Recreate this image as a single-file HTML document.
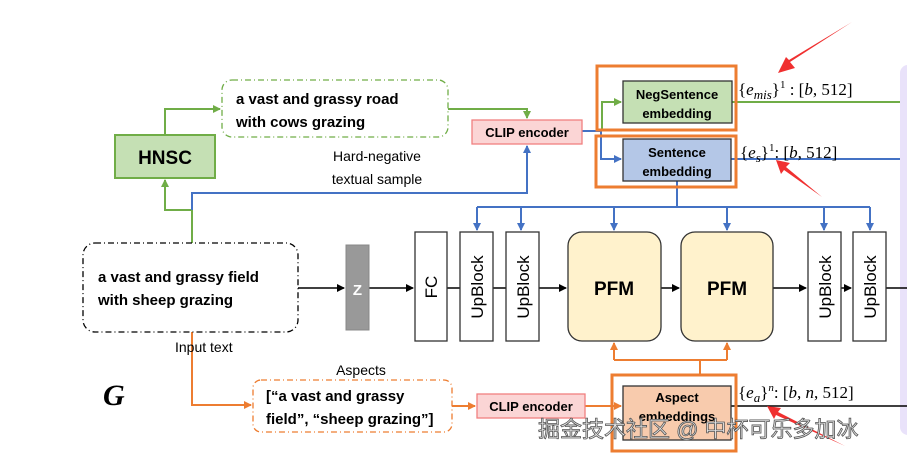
<!DOCTYPE html>
<html><head><meta charset="utf-8"><style>
body{margin:0;background:#fff;}
svg{display:block;}
text{font-family:"Liberation Sans","Noto Sans CJK SC",sans-serif;}
text.m{font-family:"Liberation Serif",serif;}
.b{font-weight:bold;}
</style></head><body>
<svg width="907" height="454" viewBox="0 0 907 454" xmlns="http://www.w3.org/2000/svg">
<defs>
<marker id="ak" markerWidth="8" markerHeight="8" refX="7" refY="4" orient="auto" markerUnits="userSpaceOnUse"><path d="M0,0 L8,4 L0,8 z" fill="#000"/></marker>
<marker id="ab" markerWidth="8" markerHeight="8" refX="7" refY="4" orient="auto" markerUnits="userSpaceOnUse"><path d="M0,0 L8,4 L0,8 z" fill="#4472c4"/></marker>
<marker id="ag" markerWidth="8" markerHeight="8" refX="7" refY="4" orient="auto" markerUnits="userSpaceOnUse"><path d="M0,0 L8,4 L0,8 z" fill="#70ad47"/></marker>
<marker id="ao" markerWidth="8" markerHeight="8" refX="7" refY="4" orient="auto" markerUnits="userSpaceOnUse"><path d="M0,0 L8,4 L0,8 z" fill="#ed7d31"/></marker>
</defs>
<rect x="900" y="65" width="20" height="370" rx="8" fill="#e9e2fa"/>

<g stroke="#70ad47" stroke-width="2" fill="none">
<path d="M192,243 V210 H165 V180" marker-end="url(#ag)"/>
<path d="M165,135 V109 H220" marker-end="url(#ag)"/>
<path d="M448,109 H527 V118" marker-end="url(#ag)"/>
<path d="M602,131 V102 H621" marker-end="url(#ag)"/>
<path d="M731,102 H900"/>
</g>
<g stroke="#4472c4" stroke-width="2" fill="none">
<path d="M192,210 V193 H527 V146" marker-end="url(#ab)"/>
<path d="M582,131 H601 V159 H621" marker-end="url(#ab)"/>
<path d="M731,159 H900"/>
<path d="M677,181 V207"/>
<path d="M477,207 H870"/>
<path d="M477,207 V230" marker-end="url(#ab)"/>
<path d="M521,207 V230" marker-end="url(#ab)"/>
<path d="M614,207 V230" marker-end="url(#ab)"/>
<path d="M727,207 V230" marker-end="url(#ab)"/>
<path d="M824,207 V230" marker-end="url(#ab)"/>
<path d="M870,207 V230" marker-end="url(#ab)"/>
</g>
<g stroke="#ed7d31" stroke-width="2" fill="none">
<path d="M192,332 V405 H251" marker-end="url(#ao)"/>
<path d="M452,406 H475" marker-end="url(#ao)"/>
<path d="M585,406 H621" marker-end="url(#ao)"/>
<path d="M700,375 V360"/>
<path d="M614,360 H727"/>
<path d="M614,360 V343" marker-end="url(#ao)"/>
<path d="M727,360 V343" marker-end="url(#ao)"/>
</g>
<g stroke="#000" stroke-width="1.5" fill="none">
<path d="M298,288 H344" marker-end="url(#ak)"/>
<path d="M369,288 H413" marker-end="url(#ak)"/>
<path d="M447,288 H460"/>
<path d="M493,288 H506"/>
<path d="M539,288 H566" marker-end="url(#ak)"/>
<path d="M661,288 H679" marker-end="url(#ak)"/>
<path d="M773,288 H806" marker-end="url(#ak)"/>
<path d="M841,288 H851" marker-end="url(#ak)"/>
<path d="M886,288 H907"/>
<path d="M731,406 H907"/>
</g>

<rect x="115" y="135" width="100" height="43" fill="#c5e0b4" stroke="#70ad47" stroke-width="2"/>
<text x="165" y="164" font-size="19" class="b" text-anchor="middle">HNSC</text>
<rect x="222" y="80" width="226" height="57" rx="10" fill="none" stroke="#70ad47" stroke-width="1.3" stroke-dasharray="6,3,1,3"/>
<text x="236" y="104" font-size="15" class="b">a vast and grassy road</text>
<text x="236" y="127" font-size="15" class="b">with cows grazing</text>
<text x="377" y="161" font-size="14" text-anchor="middle">Hard-negative</text>
<text x="377" y="184" font-size="14" text-anchor="middle">textual sample</text>

<rect x="472" y="120" width="110" height="24" fill="#fbd5d5" stroke="#f08080" stroke-width="1.3"/>
<text x="527" y="137" font-size="13" class="b" text-anchor="middle">CLIP encoder</text>

<rect x="597" y="66" width="139" height="64" fill="none" stroke="#ed7d31" stroke-width="3"/>
<rect x="596" y="136" width="140" height="51" fill="none" stroke="#ed7d31" stroke-width="3"/>
<rect x="623" y="81" width="109" height="42" fill="#c5e0b4" stroke="#333" stroke-width="1.3"/>
<text x="677" y="99" font-size="13" class="b" text-anchor="middle">NegSentence</text>
<text x="677" y="118" font-size="13" class="b" text-anchor="middle">embedding</text>
<rect x="623" y="139" width="108" height="42" fill="#b4c7e7" stroke="#333" stroke-width="1.3"/>
<text x="677" y="157" font-size="13" class="b" text-anchor="middle">Sentence</text>
<text x="677" y="176" font-size="13" class="b" text-anchor="middle">embedding</text>

<text class="m" x="738" y="95" font-size="17">{<tspan font-style="italic">e</tspan><tspan font-style="italic" font-size="13" dy="4">mis</tspan><tspan dy="-4">}</tspan><tspan font-size="11" dy="-7">1</tspan><tspan dy="7"> : [</tspan><tspan font-style="italic">b</tspan>, 512]</text>
<text class="m" x="740" y="158" font-size="17">{<tspan font-style="italic">e</tspan><tspan font-style="italic" font-size="13" dy="4">s</tspan><tspan dy="-4">}</tspan><tspan font-size="11" dy="-7">1</tspan><tspan dy="7">: [</tspan><tspan font-style="italic">b</tspan>, 512]</text>

<rect x="83" y="243" width="215" height="89" rx="12" fill="#fff" stroke="#000" stroke-width="1.3" stroke-dasharray="6,3,1,3"/>
<text x="98" y="282" font-size="15" class="b">a vast and grassy field</text>
<text x="98" y="305" font-size="15" class="b">with sheep grazing</text>
<text x="175" y="352" font-size="14">Input  text</text>

<rect x="346" y="245" width="23" height="85" fill="#999" stroke="#888"/>
<text x="357.5" y="295" font-size="15" class="b" fill="#fff" text-anchor="middle">Z</text>

<g fill="#fff" stroke="#333" stroke-width="1.3">
<rect x="415" y="232" width="32" height="109"/>
<rect x="460" y="232" width="33" height="109"/>
<rect x="506" y="232" width="33" height="109"/>
<rect x="808" y="232" width="33" height="109"/>
<rect x="853" y="232" width="33" height="109"/>
</g>
<g font-size="17">
<text transform="translate(437,287) rotate(-90)" text-anchor="middle">FC</text>
<text transform="translate(483,287) rotate(-90)" text-anchor="middle">UpBlock</text>
<text transform="translate(529,287) rotate(-90)" text-anchor="middle">UpBlock</text>
<text transform="translate(831,287) rotate(-90)" text-anchor="middle">UpBlock</text>
<text transform="translate(876,287) rotate(-90)" text-anchor="middle">UpBlock</text>
</g>
<rect x="568" y="232" width="93" height="109" rx="14" fill="#fff2cc" stroke="#333" stroke-width="1.3"/>
<rect x="681" y="232" width="92" height="109" rx="14" fill="#fff2cc" stroke="#333" stroke-width="1.3"/>
<text x="614" y="295" font-size="19" class="b" text-anchor="middle">PFM</text>
<text x="727" y="295" font-size="19" class="b" text-anchor="middle">PFM</text>

<text class="m" x="103" y="405" font-size="30" font-weight="bold" font-style="italic">G</text>

<text x="361" y="375" font-size="14" text-anchor="middle">Aspects</text>
<rect x="253" y="380" width="199" height="52" rx="8" fill="none" stroke="#ed7d31" stroke-width="1.3" stroke-dasharray="6,3,1,3"/>
<text x="266" y="401" font-size="15" class="b">[“a vast and grassy</text>
<text x="266" y="424" font-size="15" class="b">field”, “sheep grazing”]</text>
<rect x="477" y="394" width="108" height="24" fill="#fbd5d5" stroke="#f08080" stroke-width="1.3"/>
<text x="531" y="411" font-size="13" class="b" text-anchor="middle">CLIP encoder</text>

<rect x="623" y="386" width="108" height="54" fill="#f8cbad" stroke="#333" stroke-width="1.3"/>
<text x="677" y="402" font-size="13" class="b" text-anchor="middle">Aspect</text>
<text x="677" y="421" font-size="13" class="b" text-anchor="middle">embeddings</text>
<rect x="612" y="375" width="124" height="76" fill="none" stroke="#ed7d31" stroke-width="3"/>
<text class="m" x="738" y="398" font-size="17">{<tspan font-style="italic">e</tspan><tspan font-style="italic" font-size="13" dy="4">a</tspan><tspan dy="-4">}</tspan><tspan font-size="11" dy="-7" font-style="italic">n</tspan><tspan dy="7">: [</tspan><tspan font-style="italic">b</tspan>, <tspan font-style="italic">n</tspan>, 512]</text>

<g fill="#f03030">
<path d="M852,22 L790,62 L795,68 L778,73 L786,57 L789,60 Z"/>
<path d="M822,197 L786,167 L790,163 L776,160 L781,174 L784,170 Z"/>
<path d="M845,446 L778,412 L781,408 L767,406 L774,419 L776,415 Z"/>
</g>

<text x="538" y="437" font-size="22" fill="#e8e8e8" stroke="#555" stroke-width="0.8">掘金技术社区 @ 中杯可乐多加冰</text>
</svg>
</body></html>
